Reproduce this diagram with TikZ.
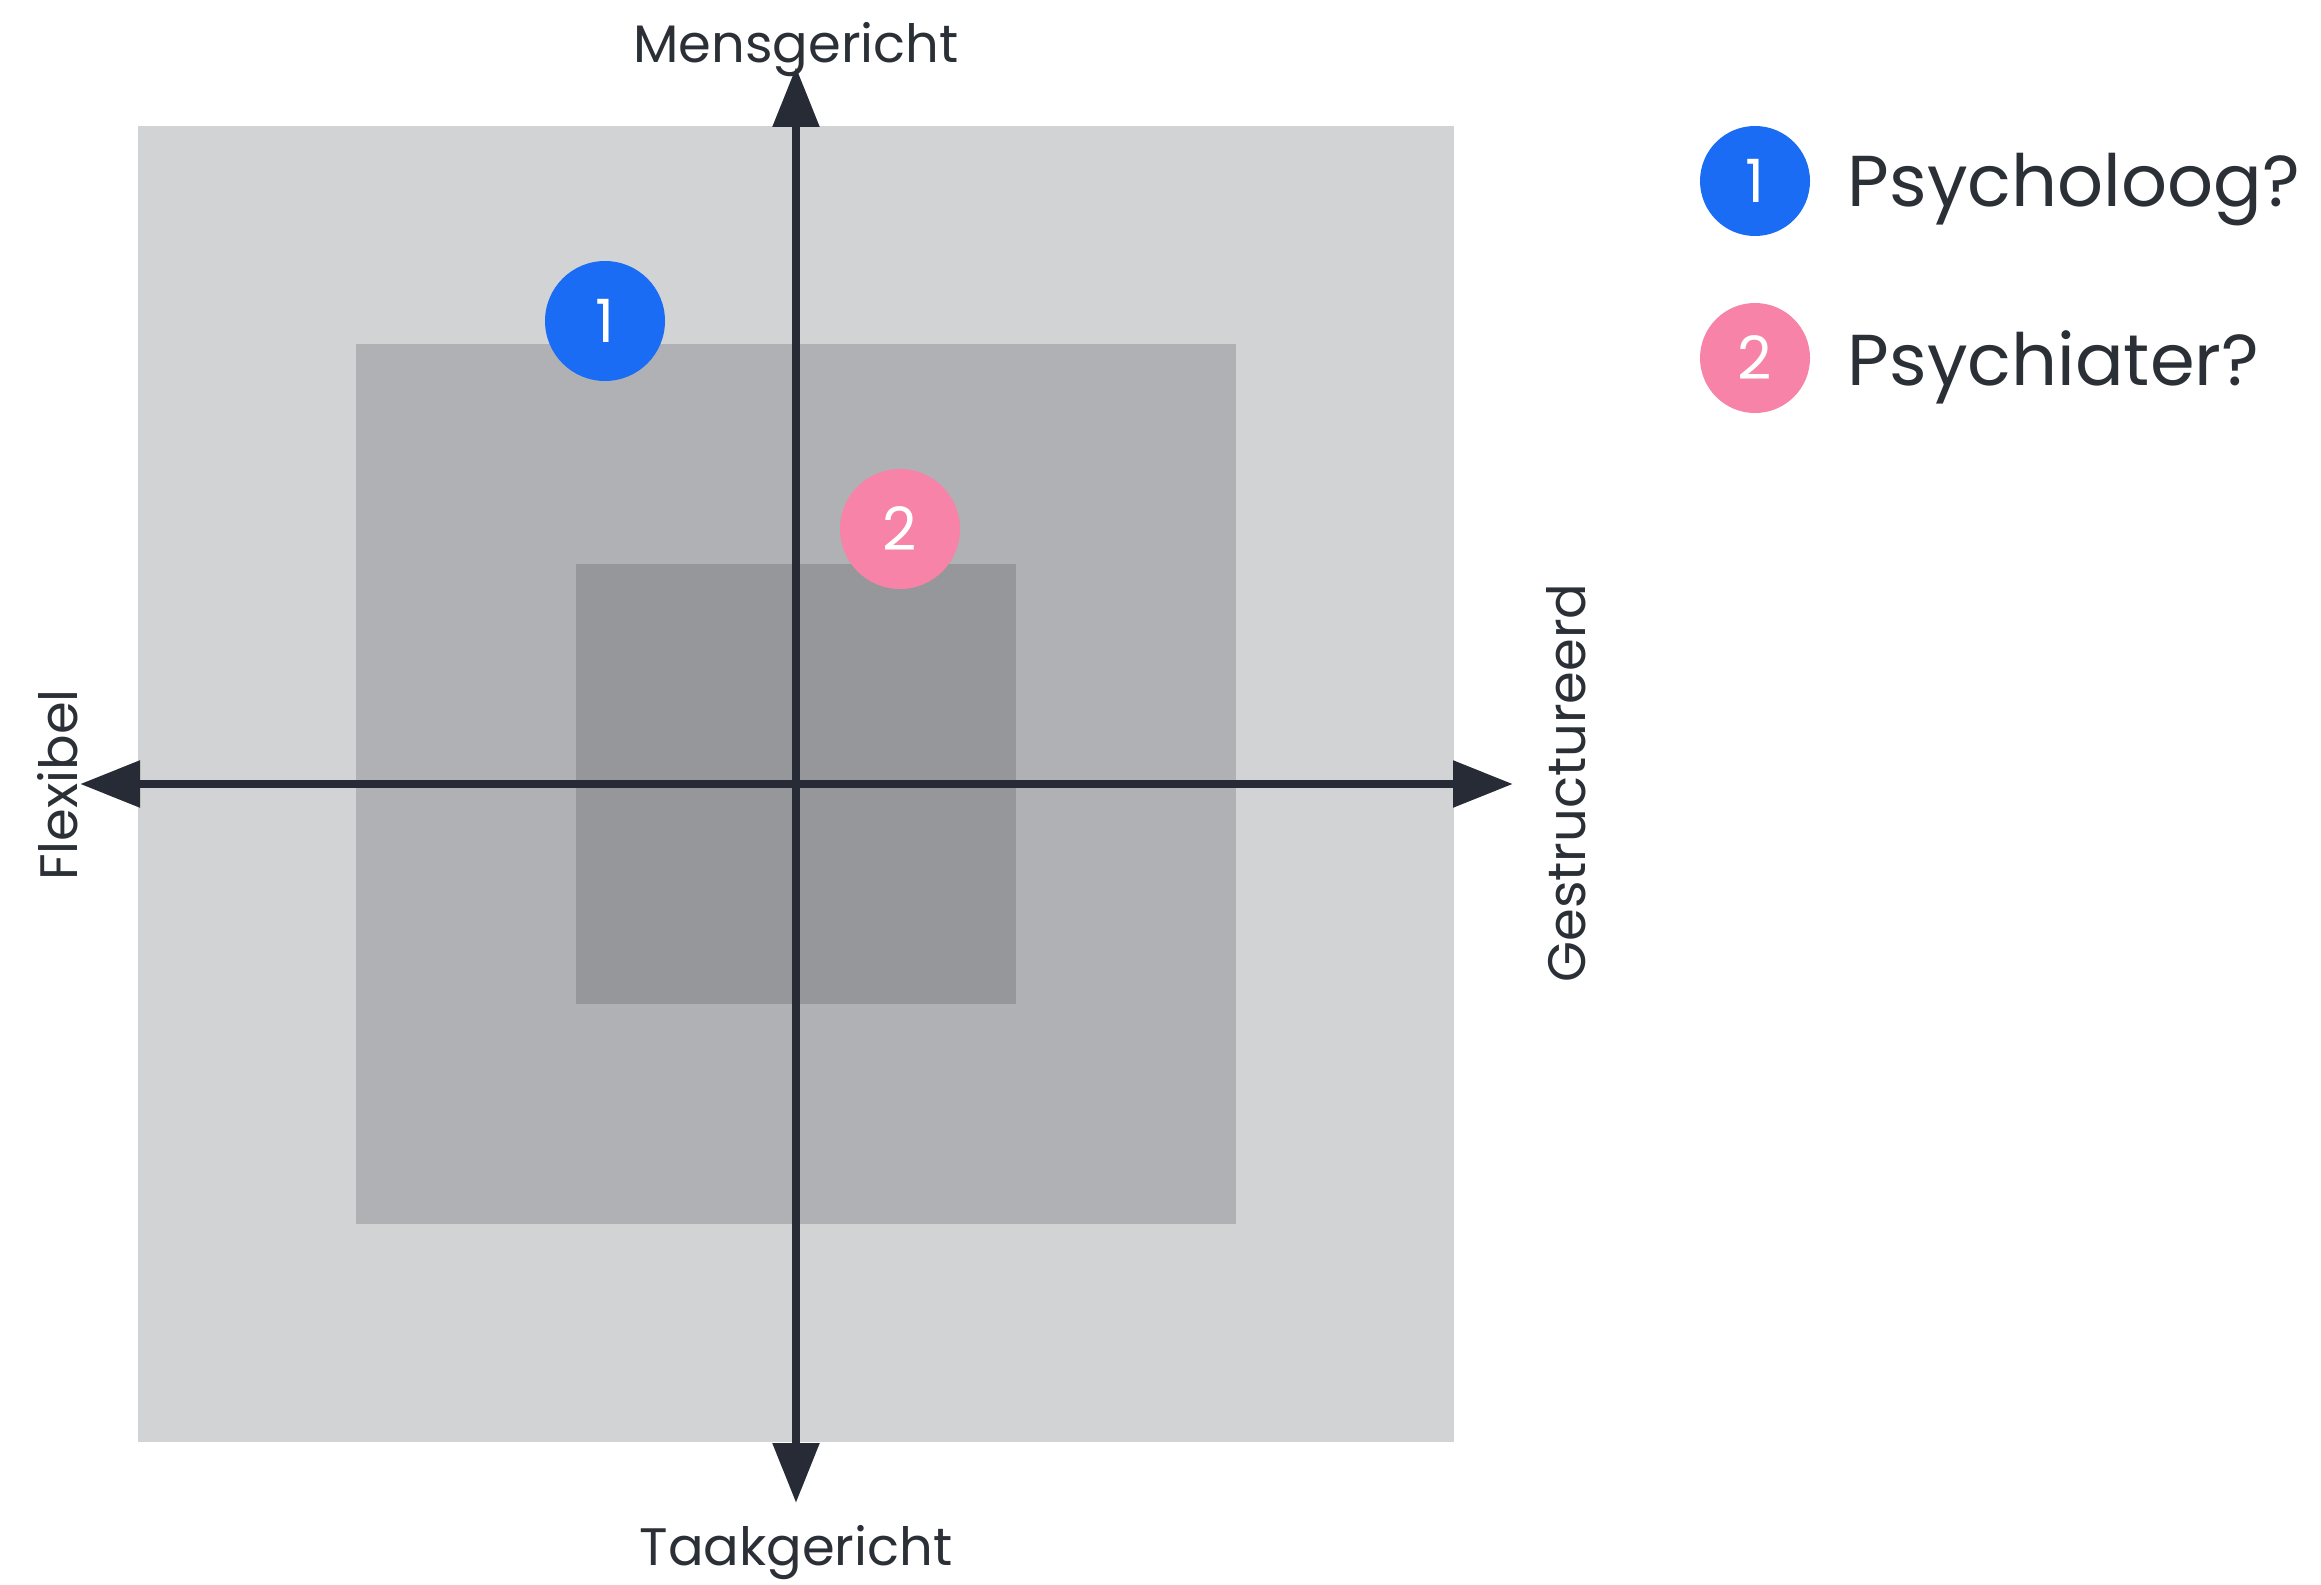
\documentclass[tikz,border=0pt]{standalone}
\usepackage{fontspec}
\setmainfont{Poppins}
\usetikzlibrary{arrows.meta}
\definecolor{outergray}{RGB}{210,211,213}
\definecolor{midgray}{RGB}{176,177,180}
\definecolor{innergray}{RGB}{149,151,155}
\definecolor{axisdark}{RGB}{38,43,53}
\definecolor{labeldark}{RGB}{43,47,54}
\definecolor{dotblue}{RGB}{26,108,245}
\definecolor{dotpink}{RGB}{247,131,168}
\begin{document}
\begin{tikzpicture}
	\tikzset{sqnode/.style={rectangle, draw=none, inner sep=0pt}}
	\tikzset{dotnode/.style={circle, minimum size=1.2cm, inner sep=0pt,
				text=white, font=\fontsize{17}{17}\selectfont}}
	\tikzset{axline/.style={line width=2.5pt, draw=axisdark,
				{Triangle[length=0.6cm,width=0.45cm]}-{Triangle[length=0.6cm,width=0.45cm]}}}
	\tikzset{axlabel/.style={text=labeldark, inner sep=0pt,
				font=\fontsize{15}{15}\selectfont}}
	\tikzset{keylabel/.style={text=labeldark, inner sep=0pt,
				font=\fontsize{20.5}{20.5}\selectfont}}

	\useasboundingbox (0,0) rectangle (23.21,-15.85);

	\node[sqnode, fill=outergray, minimum size=13.16cm] (outer) at (7.96,-7.84) {};
	\node[sqnode, fill=midgray, minimum size=8.8cm] (middle) at (7.96,-7.84) {};
	\node[sqnode, fill=innergray, minimum size=4.4cm] (inner) at (7.96,-7.84) {};

	\coordinate (ytop) at (7.96,-0.67);
	\coordinate (ybot) at (7.96,-15.03);
	\coordinate (xleft) at (0.80,-7.84);
	\coordinate (xright) at (15.13,-7.84);

	\draw[axline] (ybot) -- (ytop);
	\draw[axline] (xleft) -- (xright);

	\node[axlabel, anchor=base] (mens) at (7.96,-0.63) {Mensgericht};
	\node[axlabel, anchor=base] (taak) at (7.96,-15.65) {Taakgericht};
	\node[axlabel, anchor=base, rotate=90] (flex) at (0.78,-7.85) {Flexibel};
	\node[axlabel, anchor=base, rotate=90] (gestr) at (15.85,-7.83) {Gestructureerd};

	\node[dotnode, fill=dotblue] (d1) at (6.05,-3.21) {1};
	\node[dotnode, fill=dotpink] (d2) at (9.00,-5.29) {2};

	\node[dotnode, fill=dotblue, minimum size=1.1cm] (k1) at (17.55,-1.81) {1};
	\node[dotnode, fill=dotpink, minimum size=1.1cm] (k2) at (17.55,-3.58) {2};
	\node[keylabel, anchor=base west] (l1) at (18.47,-2.07) {Psycholoog?};
	\node[keylabel, anchor=base west] (l2) at (18.47,-3.85) {Psychiater?};
\end{tikzpicture}
\end{document}
